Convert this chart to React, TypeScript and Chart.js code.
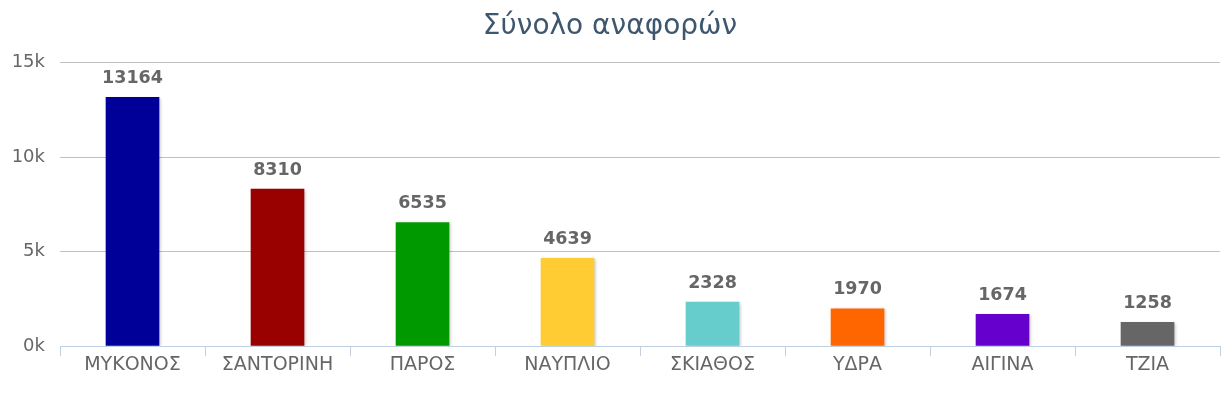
import React, { useEffect, useRef } from "react";
import { Chart, registerables } from "chart.js";

Chart.register(...registerables);

const categories = ["ΜΥΚΟΝΟΣ", "ΣΑΝΤΟΡΙΝΗ", "ΠΑΡΟΣ", "ΝΑΥΠΛΙΟ", "ΣΚΙΑΘΟΣ", "ΥΔΡΑ", "ΑΙΓΙΝΑ", "ΤΖΙΑ"];
const values = [13164, 8310, 6535, 4639, 2328, 1970, 1674, 1258];
const barColors = ["#000099", "#990000", "#009900", "#FFCC33", "#66CCCC", "#FF6600", "#6600CC", "#666666"];
const yTicks = [0, 5000, 10000, 15000];
const title = "Σύνολο αναφορών";

const FONT = "'DejaVu Sans', sans-serif";

const shadowPlugin = {
  id: "barShadow",
  beforeDatasetsDraw(chart: any) {
    const ctx = chart.ctx;
    ctx.save();
    ctx.shadowColor = "rgba(0,0,0,0.22)";
    ctx.shadowOffsetX = 2;
    ctx.shadowOffsetY = 1;
    ctx.shadowBlur = 3;
  },
  afterDatasetsDraw(chart: any) {
    chart.ctx.restore();
  },
};

const labelPlugin = {
  id: "valueLabels",
  afterDatasetsDraw(chart: any) {
    const ctx = chart.ctx;
    const meta = chart.getDatasetMeta(0);
    ctx.save();
    ctx.font = `bold 17.5px ${FONT}`;
    ctx.fillStyle = "#666666";
    ctx.textAlign = "center";
    ctx.textBaseline = "middle";
    meta.data.forEach((bar: any, i: number) => {
      ctx.fillText(String(values[i]), bar.x, bar.y - 19);
    });
    ctx.restore();
  },
};

export default function App() {
  const ref = useRef<HTMLCanvasElement>(null);
  useEffect(() => {
    if (!ref.current) return;
    const chart = new Chart(ref.current, {
      type: "bar",
      data: {
        labels: categories,
        datasets: [
          {
            data: values,
            backgroundColor: barColors,
            barThickness: 53,
            borderWidth: 0,
          },
        ],
      },
      plugins: [shadowPlugin, labelPlugin],
      options: {
        animation: false,
        responsive: true,
        maintainAspectRatio: false,
        layout: { padding: { left: 0, right: 12, top: 0, bottom: 0 } },
        plugins: {
          legend: { display: false },
          tooltip: { enabled: false },
          title: {
            display: true,
            text: title,
            color: "#3E576F",
            font: { family: FONT, size: 28, weight: "normal" },
            padding: { top: 10, bottom: 19 },
          },
        },
        scales: {
          x: {
            grid: {
              offset: true,
              drawOnChartArea: false,
              drawTicks: true,
              tickLength: 10,
              color: "#C0D0E0",
            },
            border: { color: "#C0D0E0", width: 1 },
            ticks: {
              color: "#666666",
              font: { family: FONT, size: 19 },
              padding: -2,
              maxRotation: 0,
            },
            afterFit: (s: any) => {
              s.height = 52;
            },
          },
          y: {
            min: 0,
            max: 15000,
            afterBuildTicks: (s: any) => {
              s.ticks = yTicks.map((v) => ({ value: v }));
            },
            grid: { color: "#C0C0C0", drawTicks: false },
            border: { display: false },
            ticks: {
              color: "#666666",
              font: { family: FONT, size: 18 },
              padding: 15,
              callback: (v: any) => `${Number(v) / 1000}k`,
            },
            afterFit: (s: any) => {
              s.width = 60;
            },
          },
        },
      },
    });
    return () => chart.destroy();
  }, []);
  return (
    <div style={{ position: "absolute", left: 0, top: 0, width: 1232, height: 398, background: "#fff" }}>
      <canvas ref={ref} />
    </div>
  );
}
